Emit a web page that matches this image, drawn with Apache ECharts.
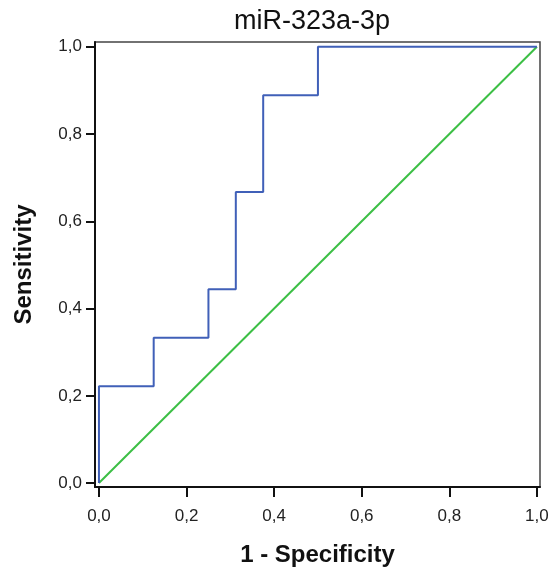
<!DOCTYPE html>
<html>
<head>
<meta charset="utf-8">
<script src="https://cdn.jsdelivr.net/npm/echarts@6/dist/echarts.min.js"></script>
<style>html,body{margin:0;padding:0;background:#fff}#c{width:551px;height:571px}</style>
</head>
<body>
<div id="c"></div>
<script>
const titleText = 'miR-323a-3p';
const xName = '1 - Specificity';
const yName = 'Sensitivity';
// ROC curve points (1 - specificity, sensitivity)
const rocFpr = [0, 0, 0.125, 0.125, 0.25, 0.25, 0.3125, 0.3125, 0.375, 0.375, 0.5, 0.5, 1];
const rocTpr = [0, 0.222, 0.222, 0.333, 0.333, 0.444, 0.444, 0.667, 0.667, 0.889, 0.889, 1, 1];
const refX = [0, 1];
const refY = [0, 1];
const tickValues = [0, 0.2, 0.4, 0.6, 0.8, 1.0];

const fmt = v => v.toFixed(1).replace('.', ',');
const font = 'Liberation Sans, Arial, sans-serif';

const chart = echarts.init(document.getElementById('c'), null, {renderer: 'canvas'});
chart.setOption({
  animation: false,
  backgroundColor: '#fff',
  title: {
    text: titleText,
    left: 307,
    top: 3,
    textAlign: 'center',
    textStyle: {fontFamily: font, fontSize: 27, fontWeight: 'normal', color: '#111'}
  },
  grid: {
    left: 95, right: 11, top: 42, bottom: 84,
    outerBoundsMode: 'none', containLabel: false,
    show: true, borderColor: '#444', borderWidth: 1.5, backgroundColor: '#fff'
  },
  xAxis: {
    type: 'value', min: -0.009, max: 1.007,
    name: xName, nameLocation: 'middle', nameGap: 56,
    nameTextStyle: {fontFamily: font, fontSize: 24, fontWeight: 'bold', color: '#111'},
    axisLine: {show: true, onZero: false, lineStyle: {color: '#111', width: 2}},
    axisTick: {show: true, customValues: tickValues, length: 10, lineStyle: {color: '#111', width: 2}},
    axisLabel: {customValues: tickValues, formatter: fmt, fontFamily: font, fontSize: 17, color: '#222', margin: 21},
    splitLine: {show: false}
  },
  yAxis: {
    type: 'value', min: -0.009, max: 1.011,
    name: yName, nameLocation: 'middle', nameGap: 59,
    nameTextStyle: {fontFamily: font, fontSize: 24, fontWeight: 'bold', color: '#111'},
    axisLine: {show: true, onZero: false, lineStyle: {color: '#111', width: 2}},
    axisTick: {show: true, customValues: tickValues, length: 9, lineStyle: {color: '#111', width: 2}},
    axisLabel: {customValues: tickValues, formatter: fmt, fontFamily: font, fontSize: 17, color: '#222', margin: 13},
    splitLine: {show: false}
  },
  series: [
    {
      type: 'line', symbol: 'none', silent: true,
      data: refX.map((x, i) => [x, refY[i]]),
      lineStyle: {color: '#3cbf45', width: 2}
    },
    {
      type: 'line', symbol: 'none', silent: true,
      data: rocFpr.map((x, i) => [x, rocTpr[i]]),
      lineStyle: {color: '#4060b8', width: 2}
    }
  ]
});
</script>
</body>
</html>
